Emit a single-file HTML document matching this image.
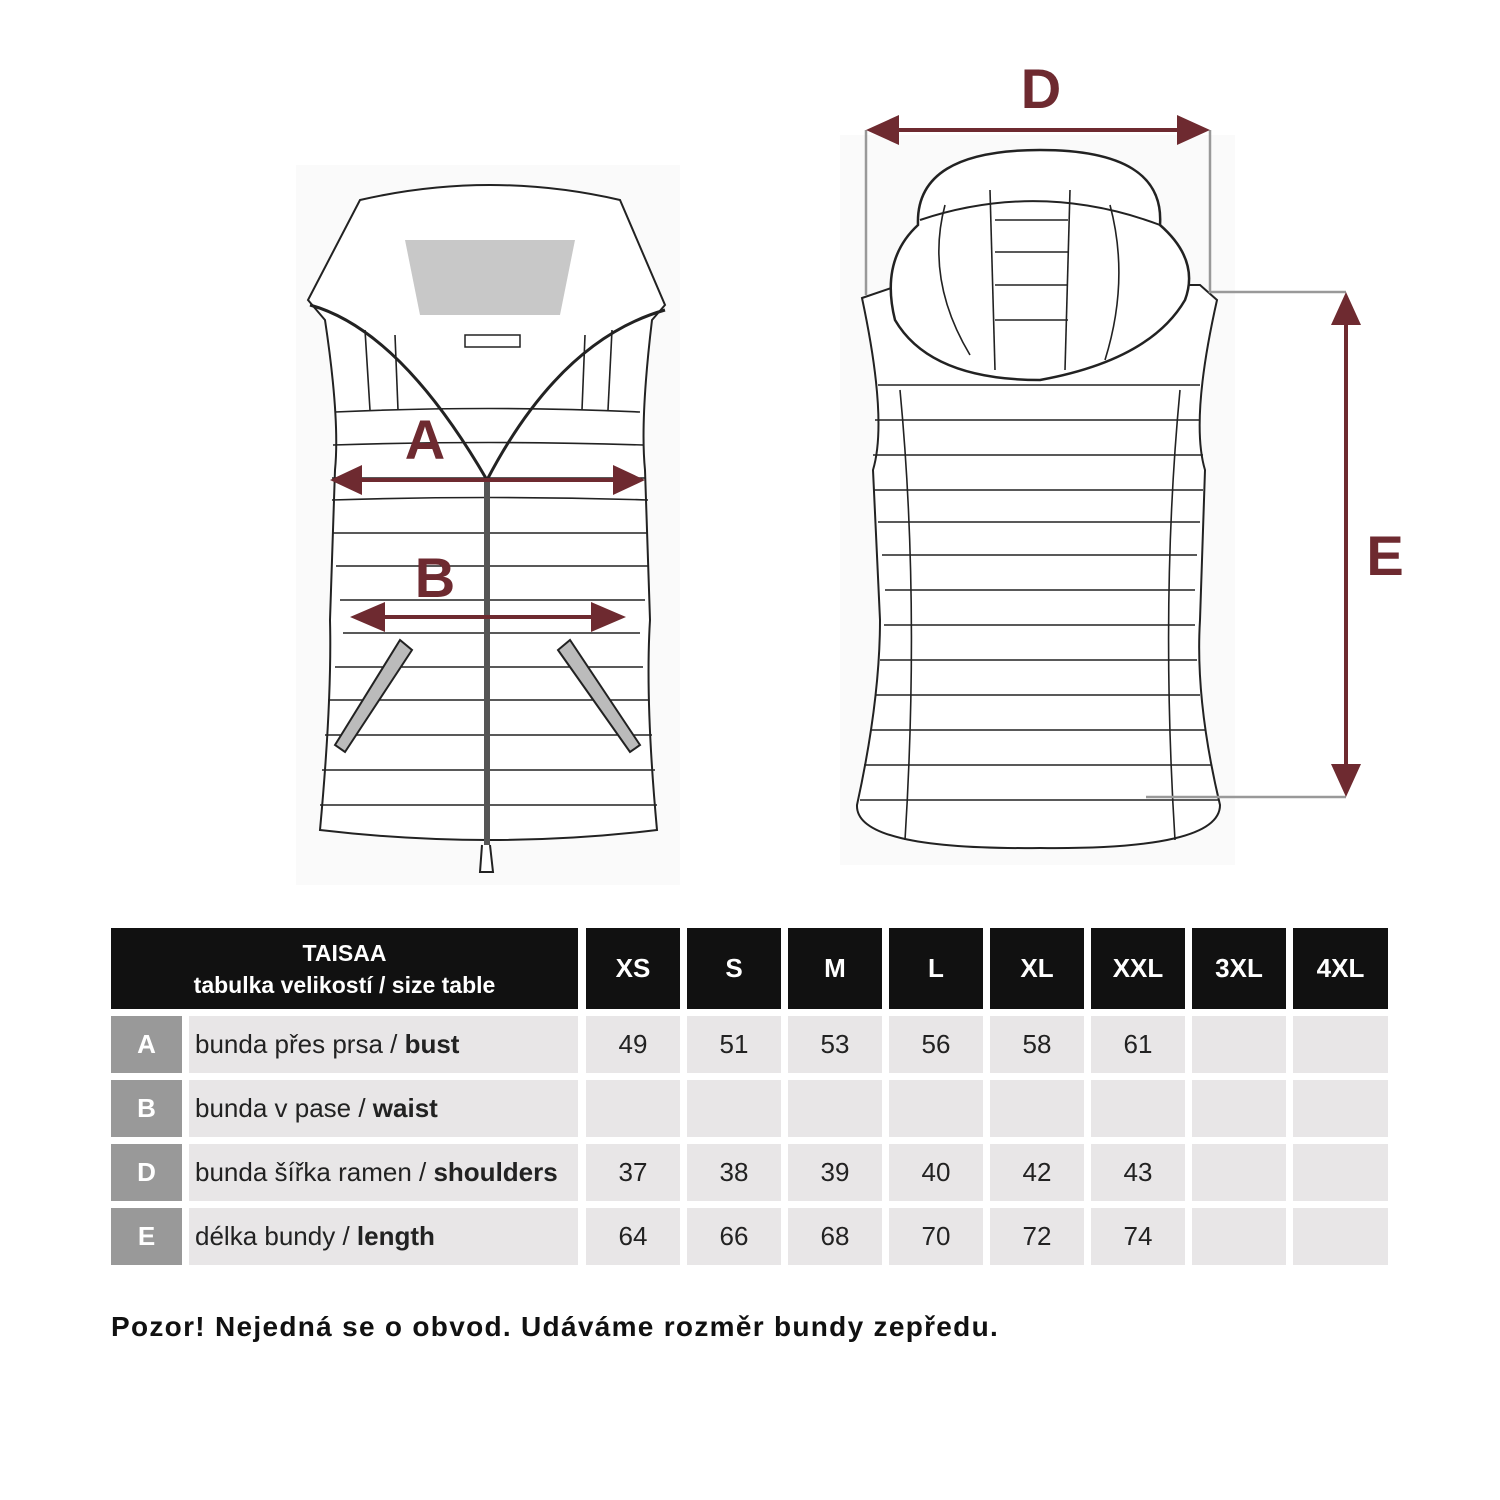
<!DOCTYPE html>
<html><head><meta charset="utf-8"><style>
body{margin:0;background:#fff;width:1500px;height:1500px;overflow:hidden;font-family:"Liberation Sans","DejaVu Sans",sans-serif;position:relative}
.c{position:absolute;display:flex;align-items:center;justify-content:center;box-sizing:border-box}
.h{background:#111;color:#fff;font-weight:bold;font-size:26px}
.g{background:#e8e6e7;color:#222;font-size:26px}
.l{background:#999;color:#fff;font-weight:bold;font-size:26px}
</style></head><body>
<svg width="1500" height="900" style="position:absolute;left:0;top:0" fill="none" stroke="#222" stroke-width="2">
<rect x="296" y="165" width="384" height="720" fill="#fafafa" stroke="none"/>
<path d="M360,200 Q490,170 620,200 L665,305 L652,320 Q640,420 645,470 L650,620 Q645,700 657,830 Q490,850 320,830 Q332,700 330,620 L335,470 Q340,420 325,320 L308,300 Z" fill="#fff"/>
<path d="M405,240 L575,240 L560,315 L420,315 Z" fill="#c8c8c8" stroke="none"/>
<rect x="465" y="335" width="55" height="12" stroke-width="1.5"/>
<g stroke-width="1.6">
<path d="M335,412 Q490,405 640,412"/><path d="M333,445 Q490,440 643,445"/><path d="M332,478 H645"/><path d="M332,500 Q490,495 648,500"/><path d="M333,533 H648"/><path d="M336,566 H648"/><path d="M340,600 H645"/><path d="M343,633 H640"/><path d="M335,667 H643"/><path d="M328,700 H648"/><path d="M325,735 H652"/><path d="M322,770 H655"/><path d="M320,805 H657"/>
<path d="M365,330 L370,410"/><path d="M395,335 L398,410"/><path d="M585,335 L582,410"/><path d="M612,330 L608,410"/>
</g>
<path d="M310,305 Q400,330 487,480 M665,310 Q560,340 487,480" stroke-width="3"/>
<path d="M487,480 V860" stroke="#555" stroke-width="6"/>
<path d="M482,845 L480,872 H493 L490,845" fill="#fff"/>
<path d="M335,745 L400,640 L412,650 L345,752 Z M640,745 L570,640 L558,650 L630,752 Z" fill="#bbb"/>
<rect x="840" y="135" width="395" height="730" fill="#fafafa" stroke="none"/>
<path d="M862,298 L900,285 L1200,285 L1217,300 Q1190,420 1205,470 L1200,620 Q1195,700 1220,805 Q1220,850 1040,848 Q855,850 857,805 Q880,700 880,620 L873,470 Q888,420 862,298 Z" fill="#fff"/>
<g stroke-width="1.6">
<path d="M878,385 H1200"/><path d="M875,420 H1200"/><path d="M873,455 H1203"/><path d="M873,490 H1203"/><path d="M878,522 H1200"/><path d="M882,555 H1197"/><path d="M885,590 H1195"/><path d="M884,625 H1195"/><path d="M880,660 H1197"/><path d="M876,695 H1200"/><path d="M870,730 H1205"/><path d="M864,765 H1212"/><path d="M860,800 H1218"/>
<path d="M900,390 Q920,600 905,840"/><path d="M1180,390 Q1160,600 1175,840"/>
</g>
<path d="M918,225 Q915,150 1040,150 Q1165,150 1160,225 Q1200,260 1185,300 Q1150,360 1040,380 Q930,380 895,320 Q880,260 918,225 Z" fill="#fff" stroke-width="2.5"/>
<path d="M920,220 Q1040,180 1160,225" stroke-width="2"/>
<g stroke-width="1.6"><path d="M990,190 L995,370"/><path d="M1070,190 L1065,370"/><path d="M995,220 H1068"/><path d="M995,252 H1068"/><path d="M995,285 H1068"/><path d="M995,320 H1068"/><path d="M945,205 Q925,280 970,355"/><path d="M1110,205 Q1130,280 1105,360"/></g>
<g stroke="#999" stroke-width="2.5"><path d="M866,130 V295"/><path d="M1210,130 V292 H1346"/><path d="M1146,797 H1346"/></g>
<g stroke="#6e2a30" stroke-width="4" fill="#6e2a30">
<path d="M355,480 H620"/><path d="M330,480 L362,465 L362,495 Z M645,480 L613,465 L613,495 Z" stroke="none"/>
<path d="M380,617 H598"/><path d="M350,617 L385,602 L385,632 Z M626,617 L591,602 L591,632 Z" stroke="none"/>
<path d="M895,130 H1180"/><path d="M866,130 L899,115 L899,145 Z M1210,130 L1177,115 L1177,145 Z" stroke="none"/>
<path d="M1346,320 V770"/><path d="M1346,292 L1331,325 L1361,325 Z M1346,797 L1331,764 L1361,764 Z" stroke="none"/>
</g>
<g fill="#6e2a30" font-family="Liberation Sans,sans-serif" font-weight="bold" font-size="56" stroke="none" text-anchor="middle">
<text x="425" y="459">A</text><text x="435" y="597">B</text><text x="1041" y="108">D</text><text x="1385" y="575">E</text>
</g>
</svg>

<div class="c h" style="left:111px;top:928px;width:467px;height:81px;flex-direction:column;font-size:23px;line-height:32px"><div>TAISAA</div><div>tabulka velikostí / size table</div></div>
<div class="c h" style="left:586px;top:928px;width:94px;height:81px">XS</div>
<div class="c h" style="left:687px;top:928px;width:94px;height:81px">S</div>
<div class="c h" style="left:788px;top:928px;width:94px;height:81px">M</div>
<div class="c h" style="left:889px;top:928px;width:94px;height:81px">L</div>
<div class="c h" style="left:990px;top:928px;width:94px;height:81px">XL</div>
<div class="c h" style="left:1091px;top:928px;width:94px;height:81px">XXL</div>
<div class="c h" style="left:1192px;top:928px;width:94px;height:81px">3XL</div>
<div class="c h" style="left:1293px;top:928px;width:95px;height:81px">4XL</div>

<div id="rows"></div>
<script>
var rows=[["A","bunda přes prsa / ","bust",["49","51","53","56","58","61","",""]],["B","bunda v pase / ","waist",["","","","","","","",""]],["D","bunda šířka ramen / ","shoulders",["37","38","39","40","42","43","",""]],["E","délka bundy / ","length",["64","66","68","70","72","74","",""]]];
var cx=[586,687,788,889,990,1091,1192,1293],h="";
rows.forEach(function(r,i){var y=1016+i*64;
h+='<div class="c l" style="left:111px;top:'+y+'px;width:71px;height:57px">'+r[0]+'</div>';
h+='<div class="c g" style="left:189px;top:'+y+'px;width:389px;height:57px;justify-content:flex-start;padding-left:6px">'+r[1]+'<b>&nbsp;'+r[2]+'</b></div>';
cx.forEach(function(x,j){h+='<div class="c g" style="left:'+x+'px;top:'+y+'px;width:'+(j==7?95:94)+'px;height:57px">'+r[3][j]+'</div>';});});
document.getElementById("rows").outerHTML=h;
</script>
<div style="position:absolute;left:111px;top:1311px;font-size:28px;letter-spacing:1.3px;font-weight:bold;color:#111;white-space:nowrap">Pozor! Nejedná se o obvod. Udáváme rozměr bundy zepředu.</div>
</body></html>
